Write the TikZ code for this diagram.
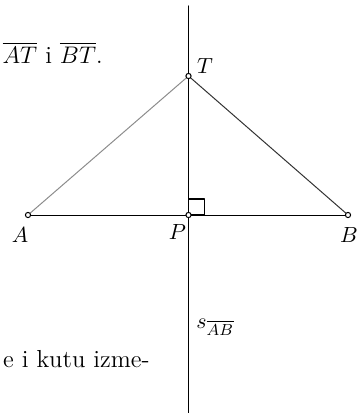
\documentclass[tikz,border=0pt]{standalone}
\usepackage{tikz}

\tikzset{
	tocka/.style={draw, fill=white, line width=0.5pt},
	oznaka/.style={font=\fontsize{11}{13}\selectfont},
	tekst/.style={font=\fontsize{12.3}{15}\selectfont, anchor=base east, inner sep=0pt}
}

\begin{document}
\begin{tikzpicture}[x=0.5pt, y=-0.5pt, line join=round, line cap=round]
	% Okvir slike
	\clip (0,0) rectangle (357,413);
	
	% Tocke
	\coordinate (A) at (28,215);
	\coordinate (P) at (188.5,215);
	\coordinate (B) at (348,215);
	\coordinate (T) at (188.5,76);
	\coordinate (Sg) at (188.5,6);
	\coordinate (Sd) at (188.5,420);
	
	% Simetrala duzine AB
	\draw[line width=0.65pt] (Sg) -- (Sd);
	
	% Duzine
	\draw[black!45, line width=0.5pt] (A) -- (T);
	\draw[black!80, line width=0.5pt] (T) -- (B);
	\draw[line width=0.5pt] (A) -- (B);
	
	% Pravi kut
	\draw[line width=0.55pt] (P) rectangle ++(16,-16);
	
	% Kruzici
	\foreach \t in {A,P,B,T}
		\draw[tocka] (\t) circle (1.3pt);
	
	% Oznake
	\node[oznaka] (lT) at (205,66) {$T$};
	\node[oznaka] (lA) at (20,235) {$A$};
	\node[oznaka] (lP) at (177.5,232) {$P$};
	\node[oznaka] (lB) at (349,235) {$B$};
	\node[oznaka, anchor=west, inner sep=0pt] (lS) at (196,327) {$s_{\overline{AB}}$};
	
	% Tekst
	\node[tekst] (t1) at (103,63) {$\overline{AT}$ i $\overline{BT}.$};
	\node[tekst] (t2) at (150,367) {e i kutu izme-};
\end{tikzpicture}
\end{document}
